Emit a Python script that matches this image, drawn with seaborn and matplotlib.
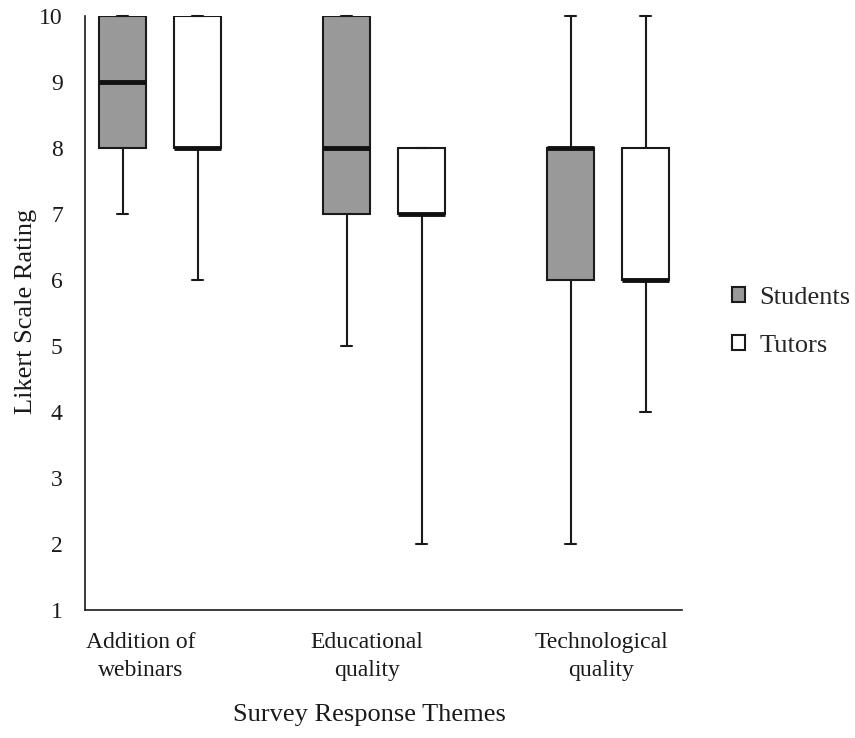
import matplotlib
matplotlib.use("Agg")
import matplotlib.pyplot as plt
from matplotlib.patches import Patch
import pandas as pd
import seaborn as sns

# Five-number summaries (min, Q1, median, Q3, max) of the Likert ratings
themes = ["Addition of\nwebinars", "Educational\nquality", "Technological\nquality"]
groups = ["Students", "Tutors"]
students_summary = [
    [7, 8, 9, 10, 10],
    [5, 7, 8, 10, 10],
    [2, 6, 8, 8, 10],
]
tutors_summary = [
    [6, 8, 8, 10, 10],
    [2, 7, 7, 8, 8],
    [4, 6, 6, 8, 10],
]
y_ticks = [1, 2, 3, 4, 5, 6, 7, 8, 9, 10]

rows = []
for theme, s_vals, t_vals in zip(themes, students_summary, tutors_summary):
    for v in s_vals:
        rows.append({"Theme": theme, "Group": "Students", "Rating": v})
    for v in t_vals:
        rows.append({"Theme": theme, "Group": "Tutors", "Rating": v})
df = pd.DataFrame(rows)

sns.set_style("white")
plt.rcParams["font.family"] = ["Liberation Serif", "DejaVu Serif"]

fig = plt.figure(figsize=(8.55, 7.38), dpi=100)
ax = fig.add_axes([85 / 855, 1 - 610 / 738, (682 - 85) / 855, (610 - 16) / 738])

colors = {"Students": "#999999", "Tutors": "#ffffff"}
sns.boxplot(
    data=df, x="Theme", y="Rating", hue="Group", hue_order=groups,
    order=themes, palette=colors, whis=(0, 100), showfliers=False,
    width=0.67, gap=0.37, linecolor="#1a1a1a", linewidth=1.5,
    medianprops=dict(color="#111111", linewidth=3.5),
    capwidths=0.05, ax=ax, legend=False,
)
for line in ax.lines:
    line.set_clip_on(False)

ax.set_ylim(1, 10)
ax.set_xlim(-0.335, 2.33)
ax.set_yticks(y_ticks)
ax.set_yticklabels([str(t) for t in y_ticks], fontsize=17)
ax.set_xticks([-0.085, 0.925, 1.97])
ax.set_xticklabels(themes, fontsize=17, linespacing=1.45)
ax.tick_params(axis="both", length=0, colors="#1a1a1a")
ax.tick_params(axis="y", pad=16)
ax.tick_params(axis="x", pad=16)

for side in ["top", "right"]:
    ax.spines[side].set_visible(False)
for side in ["left", "bottom"]:
    ax.spines[side].set_color("#1a1a1a")
    ax.spines[side].set_linewidth(1.2)

ax.set_xlabel("Survey Response Themes", fontsize=19, color="#1a1a1a")
ax.set_ylabel("Likert Scale Rating", fontsize=19, color="#1a1a1a")
ax.xaxis.set_label_coords(0.477, -0.158)
ax.yaxis.set_label_coords(-0.08, 0.503)

handles = [Patch(facecolor=colors[g], edgecolor="#1a1a1a", linewidth=1.5) for g in groups]
fig.legend(
    handles, groups, loc="center left", bbox_to_anchor=(732 / 855, 1 - 322 / 738),
    frameon=False, fontsize=19, handlelength=0.5, handleheight=0.5,
    handletextpad=0.55, labelspacing=1.0, borderaxespad=0, borderpad=0,
)

fig.savefig("out.png", dpi=100)
